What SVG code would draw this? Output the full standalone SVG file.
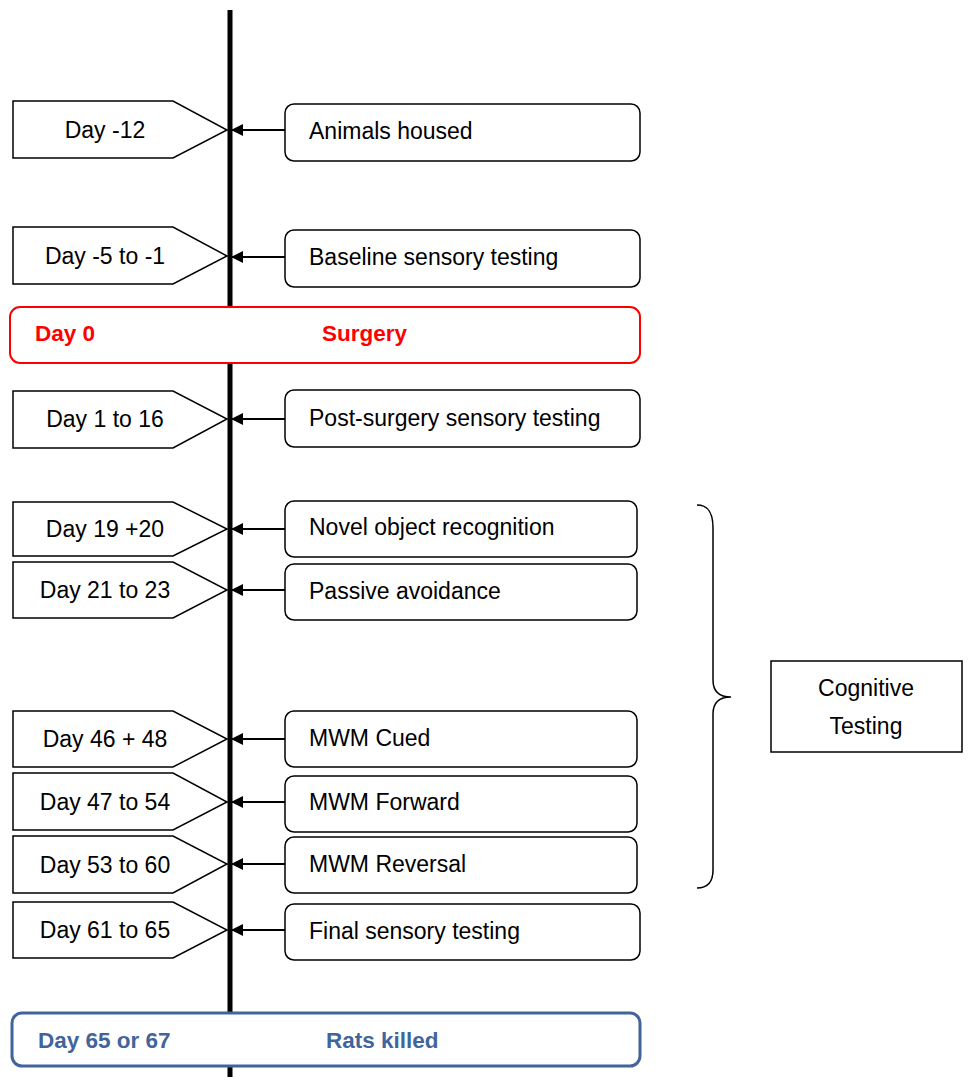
<svg xmlns="http://www.w3.org/2000/svg" width="970" height="1077" viewBox="0 0 970 1077">
<defs>
<marker id="ah" markerWidth="12" markerHeight="12" refX="11" refY="6" orient="auto" markerUnits="userSpaceOnUse">
<path d="M0,0 L12,6 L0,12 Z" fill="#000"/>
</marker>
</defs>
<style>
.pent{fill:#fff;stroke:#000;stroke-width:1.5}
.box{fill:#fff;stroke:#000;stroke-width:1.5}
.t{font-family:"Liberation Sans",Arial,sans-serif;font-size:23px;fill:#000}
.c{text-anchor:middle}
.conn{stroke:#000;stroke-width:2;fill:none;marker-end:url(#ah)}
.red{fill:#fff;stroke:#ff0000;stroke-width:2}
.blue{fill:#fff;stroke:#41659a;stroke-width:3}
.bt{font-family:"Liberation Sans",Arial,sans-serif;font-size:22.5px;font-weight:bold}
</style>
<rect x="0" y="0" width="970" height="1077" fill="#fff"/>
<g id="timeline">
<line x1="230" y1="10" x2="230" y2="1077" stroke="#000" stroke-width="5"/>
</g>
<g id="connectors">
<line class="conn" x1="285" y1="130" x2="232" y2="130"/>
<line class="conn" x1="285" y1="257" x2="232" y2="257"/>
<line class="conn" x1="285" y1="419" x2="232" y2="419"/>
<line class="conn" x1="285" y1="529" x2="232" y2="529"/>
<line class="conn" x1="285" y1="590" x2="232" y2="590"/>
<line class="conn" x1="285" y1="739" x2="232" y2="739"/>
<line class="conn" x1="285" y1="802" x2="232" y2="802"/>
<line class="conn" x1="285" y1="864" x2="232" y2="864"/>
<line class="conn" x1="285" y1="930" x2="232" y2="930"/>
</g>
<g id="day-m12"><path class="pent" d="M13,101 H173 L227,130 L173,158 H13 Z"/><text class="t c" x="105" y="138">Day -12</text></g>
<g id="animals-housed"><rect class="box" x="285" y="104" width="355" height="57" rx="9"/><text class="t" x="309" y="139">Animals housed</text></g>
<g id="day-m5"><path class="pent" d="M13,227 H173 L227,256 L173,284 H13 Z"/><text class="t c" x="105" y="264">Day -5 to -1</text></g>
<g id="baseline"><rect class="box" x="285" y="230" width="355" height="57" rx="9"/><text class="t" x="309" y="265">Baseline sensory testing</text></g>
<g id="surgery"><rect class="red" x="10" y="307" width="630" height="56" rx="10"/><text class="bt" x="35" y="341" fill="#ff0000">Day 0</text><text class="bt" x="322" y="341" fill="#ff0000">Surgery</text></g>
<g id="day-1"><path class="pent" d="M13,391 H173 L227,419 L173,448 H13 Z"/><text class="t c" x="105" y="427">Day 1 to 16</text></g>
<g id="post-surgery"><rect class="box" x="285" y="390" width="355" height="57" rx="9"/><text class="t" x="309" y="426">Post-surgery sensory testing</text></g>
<g id="day-19"><path class="pent" d="M13,502 H173 L227,529 L173,556 H13 Z"/><text class="t c" x="105" y="537">Day 19 +20</text></g>
<g id="nor"><rect class="box" x="285" y="501" width="352" height="56" rx="9"/><text class="t" x="309" y="535">Novel object recognition</text></g>
<g id="day-21"><path class="pent" d="M13,562 H173 L227,590 L173,618 H13 Z"/><text class="t c" x="105" y="598">Day 21 to 23</text></g>
<g id="passive"><rect class="box" x="285" y="564" width="352" height="56" rx="9"/><text class="t" x="309" y="599">Passive avoidance</text></g>
<g id="day-46"><path class="pent" d="M13,711 H173 L227,739 L173,767 H13 Z"/><text class="t c" x="105" y="747">Day 46 + 48</text></g>
<g id="mwm-cued"><rect class="box" x="285" y="711" width="352" height="56" rx="9"/><text class="t" x="309" y="746">MWM Cued</text></g>
<g id="day-47"><path class="pent" d="M13,773 H173 L227,802 L173,830 H13 Z"/><text class="t c" x="105" y="810">Day 47 to 54</text></g>
<g id="mwm-forward"><rect class="box" x="285" y="776" width="352" height="56" rx="9"/><text class="t" x="309" y="810">MWM Forward</text></g>
<g id="day-53"><path class="pent" d="M13,836 H173 L227,864 L173,893 H13 Z"/><text class="t c" x="105" y="873">Day 53 to 60</text></g>
<g id="mwm-reversal"><rect class="box" x="285" y="837" width="352" height="56" rx="9"/><text class="t" x="309" y="872">MWM Reversal</text></g>
<g id="day-61"><path class="pent" d="M13,902 H173 L227,930 L173,958 H13 Z"/><text class="t c" x="105" y="938">Day 61 to 65</text></g>
<g id="final"><rect class="box" x="285" y="904" width="355" height="56" rx="9"/><text class="t" x="309" y="939">Final sensory testing</text></g>
<g id="killed"><rect class="blue" x="12" y="1013" width="628" height="53" rx="10"/><text class="bt" x="38" y="1048" fill="#41659a">Day 65 or 67</text><text class="bt" x="326" y="1048" fill="#41659a">Rats killed</text></g>
<g id="brace"><path d="M697,505 C708,505 713,512 713,528 V680 C713,692 720,697 731,697 C720,697 713,702 713,714 V870 C713,882 708,888 697,888" fill="none" stroke="#000" stroke-width="1.5"/></g>
<g id="cognitive"><rect x="771" y="661" width="191" height="91" fill="#fff" stroke="#000" stroke-width="1.5"/><text class="t c" x="866" y="696">Cognitive</text><text class="t c" x="866" y="734">Testing</text></g>
</svg>
